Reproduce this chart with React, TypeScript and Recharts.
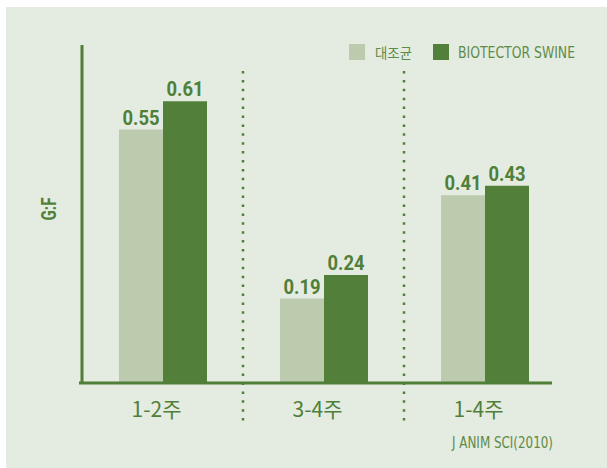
import { BarChart, Bar, XAxis, YAxis, LabelList } from 'recharts';

const categories = ['1-2주', '3-4주', '1-4주'];
const controlValues = [0.55, 0.19, 0.41];
const biotectorValues = [0.61, 0.24, 0.43];
const seriesNames = ['대조균', 'BIOTECTOR SWINE'];
const yDomain = [0.01, 0.73];

const GREEN = '#4f7f38';
const TEXT_GREEN = '#5e8c48';
const LIGHT = '#bccaad';
const DARK = '#52803a';
const BG = '#e4ebe1';

const data = categories.map((c, i) => ({
  name: c,
  control: controlValues[i],
  biotector: biotectorValues[i],
}));

// category tick + dotted separator after the first two bands
function CategoryTick(props: any) {
  const { x, y, payload, index, width } = props;
  const half = payload?.offset ?? width / (2 * categories.length);
  const sepX = x + half;
  return (
    <g>
      <text
        x={x - 6}
        y={y + 34}
        textAnchor="middle"
        fill={GREEN}
        fontSize={21}
        fontFamily="'Noto Sans CJK KR', sans-serif"
      >
        {payload.value}
      </text>
      {index < categories.length - 1 && (
        <line
          x1={sepX}
          x2={sepX}
          y1={y - 312}
          y2={y + 41}
          stroke={GREEN}
          strokeWidth={2.5}
          strokeDasharray="2.5 6.4"
        />
      )}
    </g>
  );
}

function ValueLabel(props: any) {
  const { x, y, width, value } = props;
  return (
    <text
      x={x + width / 2}
      y={y - 5}
      textAnchor="middle"
      fill={GREEN}
      fontSize={20}
      fontWeight="bold"
      fontFamily="Roboto, sans-serif"
      textLength={37}
      lengthAdjust="spacingAndGlyphs"
    >
      {Number(value).toFixed(2)}
    </text>
  );
}

function LegendBox() {
  return (
    <svg width={300} height={22} style={{ display: 'block', overflow: 'visible' }}>
      <rect x={0} y={0} width={16} height={16} fill={LIGHT} />
      <text x={26} y={14} fontSize={14} fill={TEXT_GREEN} fontFamily="'Noto Sans CJK KR', sans-serif" textLength={37} lengthAdjust="spacingAndGlyphs">
        {seriesNames[0]}
      </text>
      <rect x={84} y={0} width={16} height={16} fill={DARK} />
      <text x={109} y={14} fontSize={15} fill={TEXT_GREEN} fontFamily="'DejaVu Sans Condensed', sans-serif" textLength={117} lengthAdjust="spacingAndGlyphs">
        {seriesNames[1]}
      </text>
    </svg>
  );
}

export default function App() {
  return (
    <div style={{ position: 'absolute', left: 0, top: 0, width: 607, height: 468, background: '#fff', overflow: 'hidden' }}>
      <div style={{ position: 'absolute', left: 6, top: 7, right: 0, bottom: 0, background: BG }} />
      <div style={{ position: 'absolute', left: 0, top: 0 }}>
        <BarChart
          width={607}
          height={468}
          data={data}
          margin={{ top: 45, right: 42, bottom: 45, left: 81 }}
          barGap={0}
        >
          <XAxis
            dataKey="name"
            height={40}
            axisLine={false}
            tickLine={false}
            tickSize={0}
            tickMargin={0}
            tick={<CategoryTick />}
            interval={0}
            label={{
              content: (p: any) => {
                const vb = p.viewBox;
                return (
                  <line
                    x1={vb.x - 3}
                    x2={vb.x + vb.width - 13}
                    y1={vb.y}
                    y2={vb.y}
                    stroke={GREEN}
                    strokeWidth={3}
                  />
                );
              },
            }}
          />
          <YAxis
            width={1}
            domain={yDomain}
            allowDataOverflow
            tick={false}
            tickLine={false}
            axisLine={{ stroke: GREEN, strokeWidth: 3 }}
            label={{
              content: (p: any) => {
                const vb = p.viewBox;
                const cx = vb.x + vb.width - 33;
                const cy = vb.y + vb.height / 2 - 5;
                return (
                  <text
                    x={cx}
                    y={cy}
                    transform={`rotate(-90 ${cx} ${cy})`}
                    textAnchor="middle"
                    dominantBaseline="central"
                    fill={GREEN}
                    fontSize={20}
                    fontWeight="bold"
                    fontFamily="Roboto, sans-serif"
                    textLength={23}
                    lengthAdjust="spacingAndGlyphs"
                  >
                    G:F
                  </text>
                );
              },
            }}
          />
          <Bar dataKey="control" name={seriesNames[0]} fill={LIGHT} barSize={44} isAnimationActive={false}>
            <LabelList dataKey="control" content={<ValueLabel />} />
          </Bar>
          <Bar dataKey="biotector" name={seriesNames[1]} fill={DARK} barSize={44} isAnimationActive={false}>
            <LabelList dataKey="biotector" content={<ValueLabel />} />
          </Bar>
        </BarChart>
      </div>
      <div style={{ position: 'absolute', left: 349, top: 44 }}>
        <LegendBox />
      </div>
      <svg style={{ position: 'absolute', left: 450, top: 432, overflow: 'visible' }} width={150} height={22}>
        <text x={2} y={16} fontSize={15} fill={TEXT_GREEN} fontFamily="'DejaVu Sans Condensed', sans-serif" textLength={101} lengthAdjust="spacingAndGlyphs">
          J ANIM SCI(2010)
        </text>
      </svg>
    </div>
  );
}
